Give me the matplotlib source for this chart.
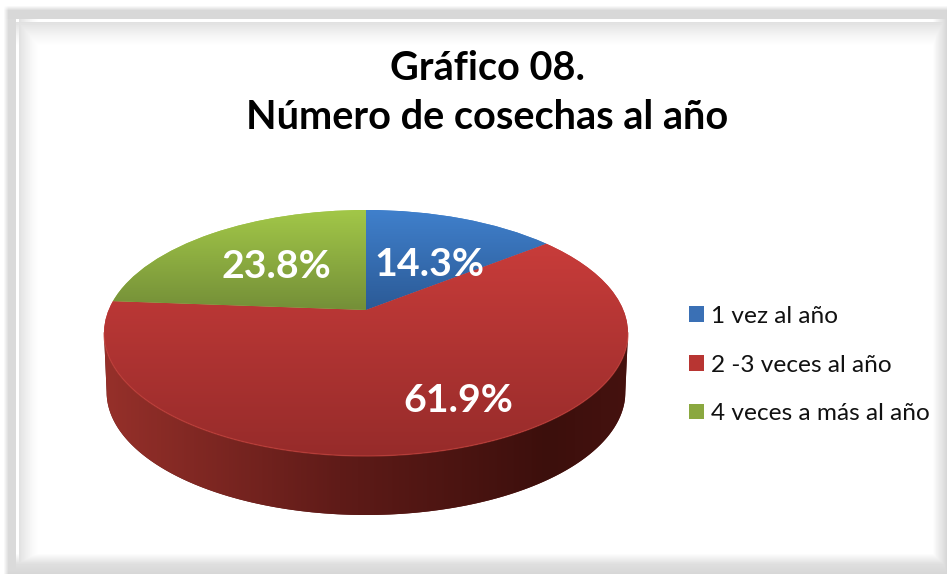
import numpy as np
import matplotlib
matplotlib.use("Agg")
import matplotlib.pyplot as plt
from matplotlib.colors import LinearSegmentedColormap
from matplotlib.path import Path
from matplotlib.patches import PathPatch
from matplotlib.transforms import Transform

plt.rcParams['font.family'] = ['Lato', 'DejaVu Sans']

# Data
title = "Gráfico 08.\nNúmero de cosechas al año"
categories = ["1 vez al año", "2 -3 veces al año", "4 veces a más al año"]
values = [14.3, 61.9, 23.8]

top_colors = [("#4080CC", "#2B5A96"), ("#C83C3A", "#962B2A"), ("#A2C748", "#748F38")]
legend_colors = ["#3A70B5", "#B83532", "#8AA83F"]
side_colors = ["#96302A", "#5F1B18", "#3C0F0C", "#45120F"]

# Pie geometry in pixels
cx, cy = 366, 333
rx, ry = 262, 123
tilt = 0.187
depth = 59


class Persp(Transform):
    # unit circle -> ellipse on screen, far side squeezed
    input_dims = 2
    output_dims = 2
    is_affine = False

    def transform_non_affine(self, values):
        values = np.asarray(values, dtype=float)
        u, v = values[:, 0], values[:, 1]
        w = 1 + tilt * v
        a = rx * np.sqrt(1 - tilt ** 2)
        return np.column_stack([cx + a * u / w, cy - ry * (v + tilt) / w])


fig = plt.figure(figsize=(9.47, 5.74), dpi=100)
ax = fig.add_axes([0, 0, 1, 1])

# Frame around the chart
xs = np.arange(947)
ys = np.arange(574)
xprof = np.interp(xs, [0, 15, 15.5, 18.5, 19, 31, 38, 932, 947],
                  [218, 218, 255, 255, 226, 247, 255, 255, 212])
yprof = np.interp(ys, [0, 18, 18.5, 21, 21.5, 36, 46, 553, 564, 574],
                  [216, 216, 255, 255, 224, 246, 255, 255, 222, 214])
shade = np.minimum.outer(yprof, xprof)
fade = np.outer(np.clip((ys - 5) / 5, 0, 1), np.clip((xs - 3) / 5, 0, 1))
bg = 255 - (255 - shade) * fade
ax.imshow(bg, cmap="gray", vmin=0, vmax=255, extent=(0, 947, 574, 0), aspect="auto", zorder=0)

# Pie slices
wedges, _ = ax.pie(values, startangle=90, counterclock=False, colors=[c[0] for c in top_colors])
persp = Persp()
for w, (c1, c2) in zip(wedges, top_colors):
    w.set_transform(persp + ax.transData)
    w.set_linewidth(0)
    w.set_zorder(3)
    pts = persp.transform(w.get_path().vertices)
    x0, x1 = pts[:, 0].min(), pts[:, 0].max()
    y0, y1 = pts[:, 1].min(), pts[:, 1].max()
    cmap = LinearSegmentedColormap.from_list("top", [c1, c2])
    im = ax.imshow(np.linspace(0, 1, 256).reshape(-1, 1), cmap=cmap, aspect="auto",
                   extent=(x0, x1, y1, y0), zorder=3.5)
    im.set_clip_path(w)

# Side wall under the front of the pie
phi = np.linspace(np.pi + np.arcsin(tilt), 2 * np.pi - np.arcsin(tilt), 200)
rim = persp.transform(np.column_stack([np.cos(phi), np.sin(phi)]))
low = rim.copy()
low[:, 0] = cx + (low[:, 0] - cx) * 0.99
low[:, 1] += depth
wall = PathPatch(Path(np.vstack([rim, low[::-1]])), facecolor=side_colors[1], edgecolor="none", zorder=2)
ax.add_patch(wall)
side_cmap = LinearSegmentedColormap.from_list("side", list(zip([0, 0.45, 0.85, 1], side_colors)))
im = ax.imshow(np.linspace(0, 1, 512).reshape(1, -1), cmap=side_cmap, aspect="auto",
               extent=(rx * -1 + cx, rx + cx, 574, 0), zorder=2.5)
im.set_clip_path(wall)
ax.plot(rim[:, 0], rim[:, 1], color="#C4433D", lw=1.0, alpha=0.6, zorder=4)

# Percent labels
label_xy = [(429, 264), (458, 400), (276, 266)]
for (lx, ly), val in zip(label_xy, values):
    ax.text(lx, ly, "{:.1f}%".format(val), color="white", fontsize=28.3, fontweight="bold",
            ha="center", va="center", zorder=5)

ax.set_xlim(0, 947)
ax.set_ylim(574, 0)
ax.set_aspect("auto")

ax.text(487, 93, title, fontsize=28.5, fontweight="bold", color="black", ha="center",
        va="center", linespacing=1.37, zorder=5)

# Legend
leg = ax.legend(wedges, categories, loc="center left", bbox_to_anchor=(677 / 947, 1 - 365 / 574),
                frameon=False, fontsize=17.6, handlelength=0.62, handleheight=0.62,
                handletextpad=0.29, labelspacing=1.13, borderpad=0, borderaxespad=0.5)
for t in leg.get_texts():
    t.set_color("#111111")
for h, c in zip(leg.legend_handles, legend_colors):
    h.set_facecolor(c)

fig.savefig("out.png", dpi=100)
